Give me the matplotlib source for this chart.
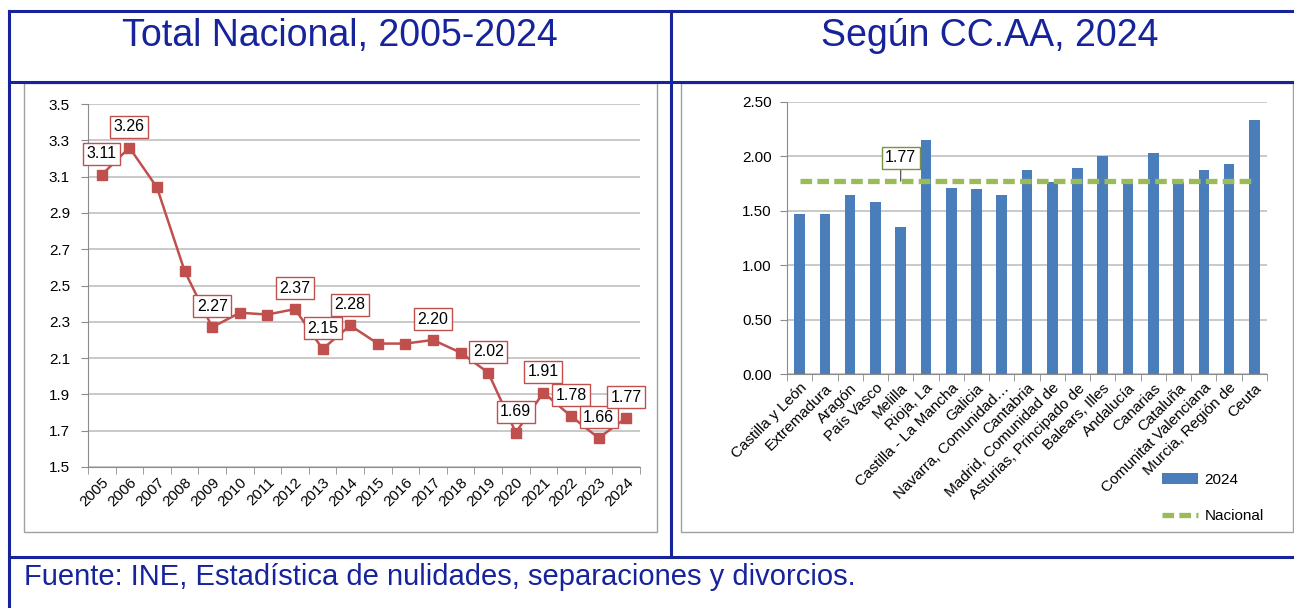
import matplotlib
matplotlib.use("Agg")
import matplotlib.pyplot as plt
from matplotlib.lines import Line2D
from matplotlib.patches import Rectangle

plt.rcParams["font.family"] = ["Liberation Sans", "DejaVu Sans"]

# -----------------------------
# DATA
# -----------------------------
years = [str(y) for y in range(2005, 2025)]
total_nacional = [3.11, 3.26, 3.04, 2.58, 2.27, 2.35, 2.34, 2.37, 2.15, 2.28,
                  2.18, 2.18, 2.20, 2.13, 2.02, 1.69, 1.91, 1.78, 1.66, 1.77]
labelled_years = ["2005", "2006", "2009", "2012", "2013", "2014", "2017",
                  "2019", "2020", "2021", "2022", "2023", "2024"]

ccaa = ["Castilla y León", "Extremadura", "Aragón", "País Vasco", "Melilla",
        "Rioja, La", "Castilla - La Mancha", "Galicia", "Navarra, Comunidad…",
        "Cantabria", "Madrid, Comunidad de", "Asturias, Principado de",
        "Balears, Illes", "Andalucía", "Canarias", "Cataluña",
        "Comunitat Valenciana", "Murcia, Región de", "Ceuta"]
ccaa_2024 = [1.47, 1.47, 1.64, 1.58, 1.35, 2.15, 1.71, 1.70, 1.64, 1.87,
             1.76, 1.89, 2.00, 1.76, 2.03, 1.76, 1.87, 1.93, 2.33]
nacional_2024 = 1.77

NAVY = "#16239b"
RED = "#c0504d"
BLUE = "#4a7ebb"
GREEN = "#9bbb59"
GRID = "#c0c0c0"
AXIS = "#8c8c8c"

W, H = 1294, 608
fig = plt.figure(figsize=(W / 100, H / 100), dpi=100)


def fx(px):
    return px / W


def fy(py):
    return 1 - py / H


# -----------------------------
# FRAME / TABLE LINES
# -----------------------------
frame = [
    ((9, W), (11, 11)),
    ((9, 9), (11, H)),
    ((9, W), (82, 82)),
    ((671, 671), (11, 557)),
    ((9, W), (557, 557)),
]
for xs, ys in frame:
    fig.add_artist(Line2D([fx(x) for x in xs], [fy(y) for y in ys],
                          color=NAVY, lw=2.2, transform=fig.transFigure))

# grey chart boxes
for x0, x1 in [(24, 657), (681, 1293)]:
    fig.add_artist(Rectangle((fx(x0), fy(532)), fx(x1 - x0), (532 - 83) / H,
                             transform=fig.transFigure, fill=False,
                             edgecolor="#a0a0a0", lw=1.0))

fig.text(fx(340), fy(36), "Total Nacional, 2005-2024", color=NAVY,
         fontsize=27, ha="center", va="center")
fig.text(fx(990), fy(36), "Según CC.AA, 2024", color=NAVY,
         fontsize=27, ha="center", va="center")
fig.text(fx(24), fy(577), "Fuente: INE, Estadística de nulidades, separaciones y divorcios.",
         color=NAVY, fontsize=21, ha="left", va="center")

# -----------------------------
# LEFT: line chart
# -----------------------------
ax1 = fig.add_axes([fx(88), fy(467), fx(640 - 88), (467 - 104) / H])
xs = list(range(len(years)))
ax1.plot(xs, total_nacional, color=RED, lw=1.8, marker="s", markersize=7,
         markeredgecolor=RED, markerfacecolor=RED, zorder=3)
for i, (yr, v) in enumerate(zip(years, total_nacional)):
    if yr in labelled_years:
        ax1.annotate(f"{v:.2f}", (i, v), xytext=(0, 15), textcoords="offset points",
                     ha="center", va="center", fontsize=11.5, zorder=4,
                     bbox=dict(boxstyle="square,pad=0.22", fc="white",
                               ec=RED, lw=1.0))
ax1.set_xlim(-0.5, len(years) - 0.5)
ax1.set_ylim(1.5, 3.5)
ax1.set_yticks([1.5 + 0.2 * k for k in range(11)])
ax1.set_yticklabels([f"{1.5 + 0.2 * k:.1f}" for k in range(11)], fontsize=11)
ax1.set_xticks(xs)
ax1.set_xticklabels(years, rotation=45, ha="right", rotation_mode="anchor",
                    fontsize=11)
ax1.set_xticks([k - 0.5 for k in range(len(years) + 1)], minor=True)
ax1.tick_params(axis="x", which="major", length=0, pad=6)
ax1.tick_params(axis="x", which="minor", length=5, color=AXIS)
ax1.tick_params(axis="y", length=5, color=AXIS, pad=8)
ax1.grid(axis="y", color=GRID, lw=1.2)
ax1.set_axisbelow(True)
for s in ["top", "right"]:
    ax1.spines[s].set_visible(False)
for s in ["left", "bottom"]:
    ax1.spines[s].set_color(AXIS)

# -----------------------------
# RIGHT: bars + national line
# -----------------------------
ax2 = fig.add_axes([fx(787), fy(374), fx(1267 - 787), (374 - 101.7) / H])
xr = list(range(len(ccaa)))
bars = ax2.bar(xr, ccaa_2024, width=0.42, color=BLUE, label="2024", zorder=2)
nac_line, = ax2.plot(xr, [nacional_2024] * len(ccaa), color=GREEN, lw=3.8,
                     ls=(0, (2.2, 1.0)), label="Nacional", zorder=3)
ax2.annotate(f"{nacional_2024:.2f}", (4, nacional_2024), xytext=(0, 17),
             textcoords="offset points", ha="center", va="center", fontsize=11.5,
             zorder=4,
             bbox=dict(boxstyle="square,pad=0.22", fc="white", ec="#77933c", lw=1.0),
             arrowprops=dict(arrowstyle="-", color="#404040", lw=0.8,
                             shrinkA=0, shrinkB=0))
ax2.set_xlim(-0.5, len(ccaa) - 0.5)
ax2.set_ylim(0, 2.5)
ax2.set_yticks([0.5 * k for k in range(6)])
ax2.set_yticklabels([f"{0.5 * k:.2f}" for k in range(6)], fontsize=11)
ax2.set_xticks(xr)
ax2.set_xticklabels(ccaa, rotation=45, ha="right", rotation_mode="anchor",
                    fontsize=11)
ax2.set_xticks([k - 0.5 for k in range(len(ccaa) + 1)], minor=True)
ax2.tick_params(axis="x", which="major", length=0, pad=5)
ax2.tick_params(axis="x", which="minor", length=5, color=AXIS)
ax2.tick_params(axis="y", length=5, color=AXIS, pad=6)
ax2.grid(axis="y", color=GRID, lw=1.2)
ax2.set_axisbelow(True)
for s in ["top", "right"]:
    ax2.spines[s].set_visible(False)
for s in ["left", "bottom"]:
    ax2.spines[s].set_color(AXIS)

fig.legend([bars, nac_line], ["2024", "Nacional"], loc="center left",
           bbox_to_anchor=(fx(1148), fy(498)), frameon=False, fontsize=11,
           handlelength=2.4, labelspacing=1.5, handletextpad=0.4)

fig.savefig("out.png", dpi=100)
